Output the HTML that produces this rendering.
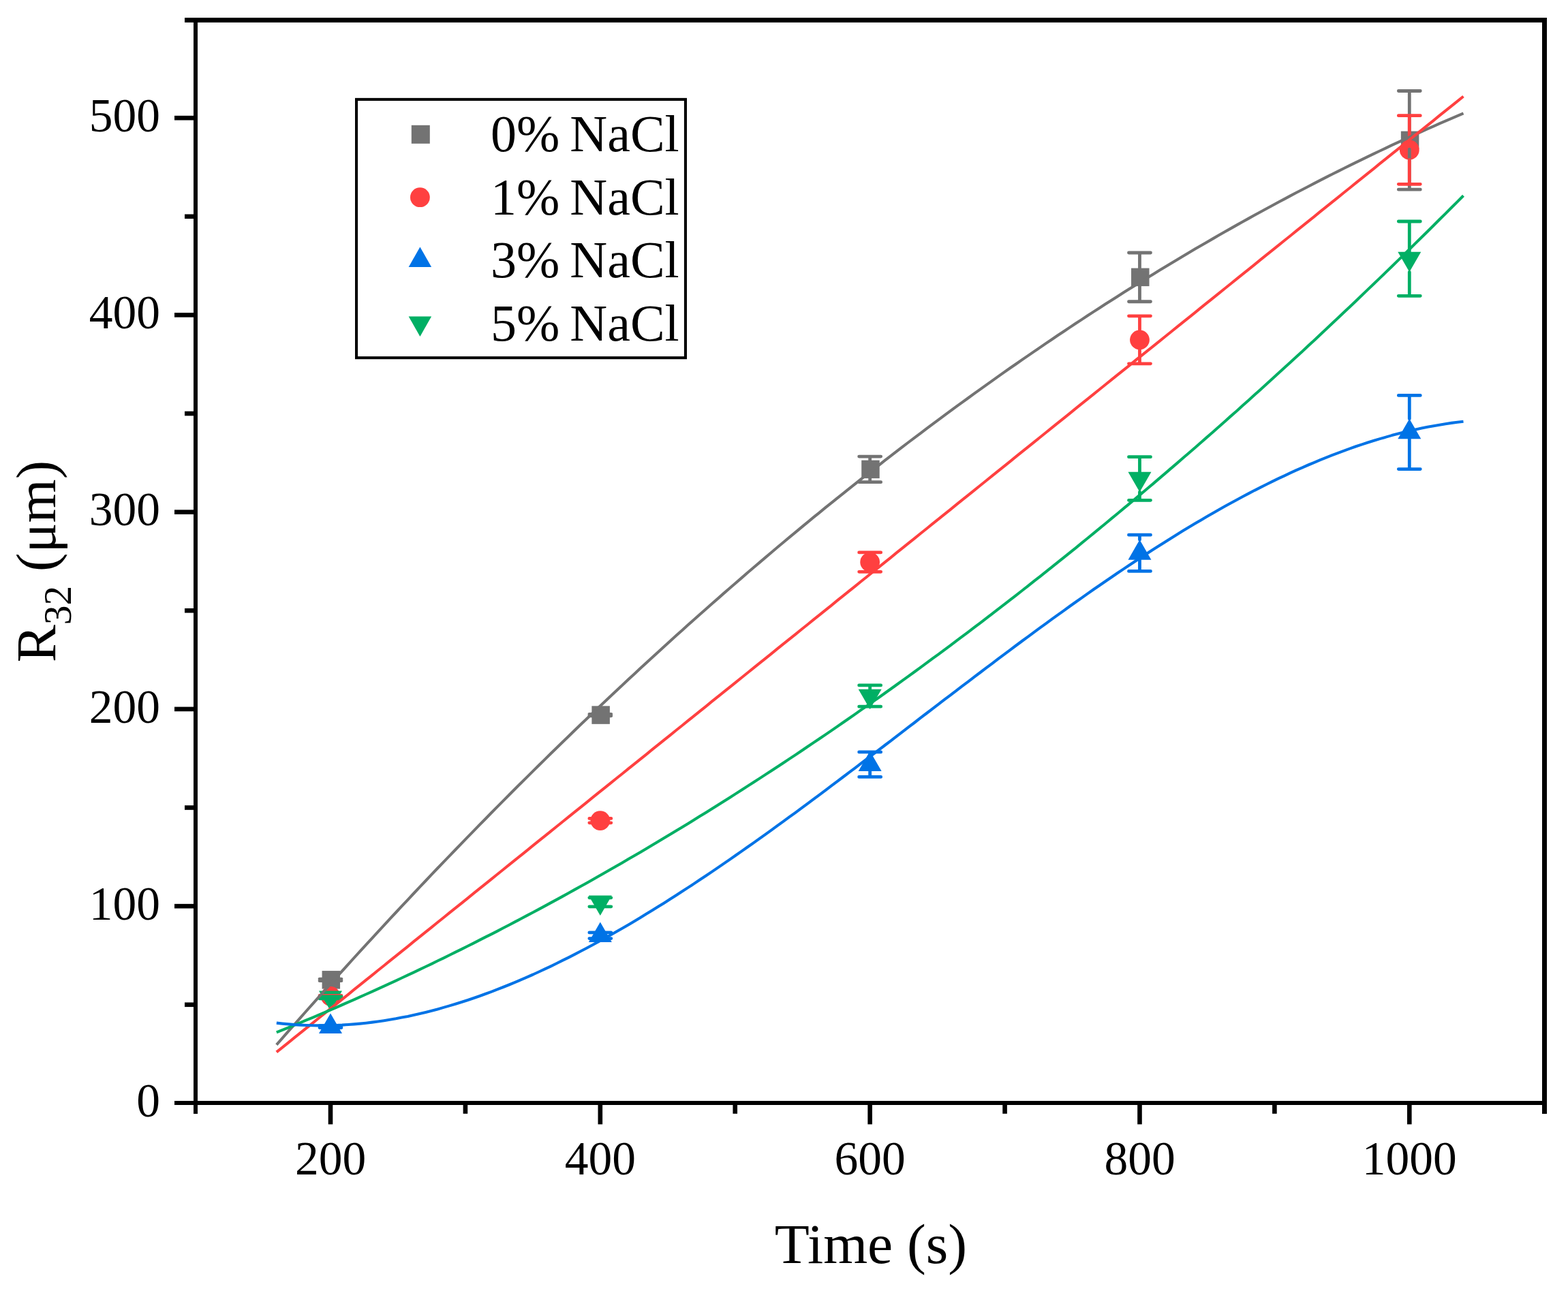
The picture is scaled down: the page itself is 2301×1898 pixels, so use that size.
<!DOCTYPE html>
<html><head><meta charset="utf-8"><title>R32 vs Time</title>
<style>html,body{margin:0;padding:0;background:#fff;width:2301px;height:1898px;overflow:hidden}</style>
</head><body>
<svg width="2301" height="1898" viewBox="0 0 2301 1898" style="position:absolute;left:0;top:0">
<rect width="2301" height="1898" fill="#fff"/>
<rect x="472.56" y="1425.08" width="26.5" height="26.5" fill="#737373"/>
<rect x="868.38" y="1036.33" width="26.5" height="26.5" fill="#737373"/>
<rect x="1264.20" y="675.63" width="26.5" height="26.5" fill="#737373"/>
<rect x="1660.02" y="393.61" width="26.5" height="26.5" fill="#737373"/>
<rect x="2055.84" y="192.59" width="26.5" height="26.5" fill="#737373"/>
<circle cx="485.01" cy="1462.34" r="14.4" fill="#FF4040"/>
<circle cx="880.83" cy="1204.62" r="14.4" fill="#FF4040"/>
<circle cx="1276.65" cy="825.12" r="14.4" fill="#FF4040"/>
<circle cx="1672.47" cy="498.85" r="14.4" fill="#FF4040"/>
<circle cx="2068.29" cy="220.01" r="14.4" fill="#FF4040"/>
<polygon points="485.01,1487.50 502.01,1517.00 468.01,1517.00" fill="#0073E6"/>
<polygon points="880.83,1353.58 897.83,1383.08 863.83,1383.08" fill="#0073E6"/>
<polygon points="1276.65,1102.51 1293.65,1132.01 1259.65,1132.01" fill="#0073E6"/>
<polygon points="1672.47,792.15 1689.47,821.65 1655.47,821.65" fill="#0073E6"/>
<polygon points="2068.29,614.84 2085.29,644.34 2051.29,644.34" fill="#0073E6"/>
<polygon points="468.01,1454.53 502.01,1454.53 485.01,1484.03" fill="#00AF64"/>
<polygon points="863.83,1314.53 897.83,1314.53 880.83,1344.03" fill="#00AF64"/>
<polygon points="1259.65,1011.69 1293.65,1011.69 1276.65,1041.19" fill="#00AF64"/>
<polygon points="1655.47,692.64 1689.47,692.64 1672.47,722.14" fill="#00AF64"/>
<polygon points="2051.29,369.84 2085.29,369.84 2068.29,399.34" fill="#00AF64"/>
<path d="M485.01,1437.03V1439.63M469.01,1437.03H501.01M469.01,1439.63H501.01" stroke="#737373" stroke-width="4.8" stroke-linecap="round" fill="none"/>
<path d="M880.83,1048.42V1050.73M864.83,1048.42H896.83M864.83,1050.73H896.83" stroke="#737373" stroke-width="4.8" stroke-linecap="round" fill="none"/>
<path d="M1276.65,670.08V675.63M1276.65,702.13V707.68M1260.65,670.08H1292.65M1260.65,707.68H1292.65" stroke="#737373" stroke-width="4.8" stroke-linecap="round" fill="none"/>
<path d="M1672.47,371.00V393.61M1672.47,420.11V442.73M1656.47,371.00H1688.47M1656.47,442.73H1688.47" stroke="#737373" stroke-width="4.8" stroke-linecap="round" fill="none"/>
<path d="M2068.29,133.52V192.59M2068.29,219.09V278.15M2052.29,133.52H2084.29M2052.29,278.15H2084.29" stroke="#737373" stroke-width="4.8" stroke-linecap="round" fill="none"/>
<path d="M485.01,1461.47V1463.21M469.01,1461.47H501.01M469.01,1463.21H501.01" stroke="#FF4040" stroke-width="4.8" stroke-linecap="round" fill="none"/>
<path d="M880.83,1201.43V1207.80M864.83,1201.43H896.83M864.83,1207.80H896.83" stroke="#FF4040" stroke-width="4.8" stroke-linecap="round" fill="none"/>
<path d="M1276.65,810.95V839.29M1260.65,810.95H1292.65M1260.65,839.29H1292.65" stroke="#FF4040" stroke-width="4.8" stroke-linecap="round" fill="none"/>
<path d="M1672.47,463.85V484.45M1672.47,513.25V533.84M1656.47,463.85H1688.47M1656.47,533.84H1688.47" stroke="#FF4040" stroke-width="4.8" stroke-linecap="round" fill="none"/>
<path d="M2068.29,169.68V205.61M2068.29,234.41V270.34M2052.29,169.68H2084.29M2052.29,270.34H2084.29" stroke="#FF4040" stroke-width="4.8" stroke-linecap="round" fill="none"/>
<path d="M485.01,1505.72V1508.62M469.01,1505.72H501.01M469.01,1508.62H501.01" stroke="#0073E6" stroke-width="4.8" stroke-linecap="round" fill="none"/>
<path d="M880.83,1368.91V1377.59M864.83,1368.91H896.83M864.83,1377.59H896.83" stroke="#0073E6" stroke-width="4.8" stroke-linecap="round" fill="none"/>
<path d="M1276.65,1103.96V1140.40M1260.65,1103.96H1292.65M1260.65,1140.40H1292.65" stroke="#0073E6" stroke-width="4.8" stroke-linecap="round" fill="none"/>
<path d="M1672.47,785.20V792.15M1672.47,821.65V838.43M1656.47,785.20H1688.47M1656.47,838.43H1688.47" stroke="#0073E6" stroke-width="4.8" stroke-linecap="round" fill="none"/>
<path d="M2068.29,580.41V614.84M2068.29,644.34V688.59M2052.29,580.41H2084.29M2052.29,688.59H2084.29" stroke="#0073E6" stroke-width="4.8" stroke-linecap="round" fill="none"/>
<path d="M485.01,1462.92V1465.81M469.01,1462.92H501.01M469.01,1465.81H501.01" stroke="#00AF64" stroke-width="4.8" stroke-linecap="round" fill="none"/>
<path d="M880.83,1317.86V1330.87M864.83,1317.86H896.83M864.83,1330.87H896.83" stroke="#00AF64" stroke-width="4.8" stroke-linecap="round" fill="none"/>
<path d="M1276.65,1005.90V1037.14M1260.65,1005.90H1292.65M1260.65,1037.14H1292.65" stroke="#00AF64" stroke-width="4.8" stroke-linecap="round" fill="none"/>
<path d="M1672.47,670.66V692.64M1672.47,722.14V734.30M1656.47,670.66H1688.47M1656.47,734.30H1688.47" stroke="#00AF64" stroke-width="4.8" stroke-linecap="round" fill="none"/>
<path d="M2068.29,325.01V369.84M2068.29,399.34V434.34M2052.29,325.01H2084.29M2052.29,434.34H2084.29" stroke="#00AF64" stroke-width="4.8" stroke-linecap="round" fill="none"/>
<polyline points="405.8,1533.7 414.6,1523.7 423.3,1513.7 432.1,1503.8 440.9,1493.9 449.6,1484.0 458.4,1474.1 467.1,1464.3 475.9,1454.5 484.6,1444.8 493.4,1435.0 502.1,1425.3 510.9,1415.7 519.6,1406.0 528.4,1396.4 537.1,1386.9 545.9,1377.3 554.6,1367.8 563.4,1358.4 572.1,1348.9 580.9,1339.5 589.6,1330.1 598.4,1320.8 607.1,1311.5 615.9,1302.2 624.6,1293.0 633.4,1283.7 642.1,1274.5 650.9,1265.4 659.6,1256.3 668.4,1247.2 677.2,1238.1 685.9,1229.1 694.7,1220.1 703.4,1211.1 712.2,1202.2 720.9,1193.3 729.7,1184.4 738.4,1175.6 747.2,1166.8 755.9,1158.0 764.7,1149.3 773.4,1140.6 782.2,1131.9 790.9,1123.2 799.7,1114.6 808.4,1106.0 817.2,1097.5 825.9,1089.0 834.7,1080.5 843.4,1072.0 852.2,1063.6 860.9,1055.2 869.7,1046.8 878.4,1038.5 887.2,1030.2 895.9,1021.9 904.7,1013.7 913.5,1005.5 922.2,997.3 931.0,989.2 939.7,981.1 948.5,973.0 957.2,965.0 966.0,956.9 974.7,949.0 983.5,941.0 992.2,933.1 1001.0,925.2 1009.7,917.3 1018.5,909.5 1027.2,901.7 1036.0,894.0 1044.7,886.2 1053.5,878.6 1062.2,870.9 1071.0,863.3 1079.7,855.7 1088.5,848.1 1097.2,840.5 1106.0,833.0 1114.7,825.6 1123.5,818.1 1132.2,810.7 1141.0,803.3 1149.7,796.0 1158.5,788.7 1167.3,781.4 1176.0,774.1 1184.8,766.9 1193.5,759.7 1202.3,752.6 1211.0,745.4 1219.8,738.4 1228.5,731.3 1237.3,724.3 1246.0,717.3 1254.8,710.3 1263.5,703.4 1272.3,696.5 1281.0,689.6 1289.8,682.8 1298.5,675.9 1307.3,669.2 1316.0,662.4 1324.8,655.7 1333.5,649.0 1342.3,642.4 1351.0,635.8 1359.8,629.2 1368.5,622.6 1377.3,616.1 1386.0,609.6 1394.8,603.2 1403.6,596.7 1412.3,590.3 1421.1,584.0 1429.8,577.6 1438.6,571.3 1447.3,565.1 1456.1,558.8 1464.8,552.6 1473.6,546.4 1482.3,540.3 1491.1,534.2 1499.8,528.1 1508.6,522.1 1517.3,516.1 1526.1,510.1 1534.8,504.1 1543.6,498.2 1552.3,492.3 1561.1,486.5 1569.8,480.6 1578.6,474.8 1587.3,469.1 1596.1,463.3 1604.8,457.6 1613.6,452.0 1622.3,446.3 1631.1,440.7 1639.8,435.2 1648.6,429.6 1657.4,424.1 1666.1,418.7 1674.9,413.2 1683.6,407.8 1692.4,402.4 1701.1,397.1 1709.9,391.7 1718.6,386.5 1727.4,381.2 1736.1,376.0 1744.9,370.8 1753.6,365.6 1762.4,360.5 1771.1,355.4 1779.9,350.4 1788.6,345.3 1797.4,340.3 1806.1,335.4 1814.9,330.4 1823.6,325.5 1832.4,320.6 1841.1,315.8 1849.9,311.0 1858.6,306.2 1867.4,301.5 1876.1,296.7 1884.9,292.1 1893.7,287.4 1902.4,282.8 1911.2,278.2 1919.9,273.7 1928.7,269.1 1937.4,264.6 1946.2,260.2 1954.9,255.7 1963.7,251.3 1972.4,247.0 1981.2,242.6 1989.9,238.3 1998.7,234.1 2007.4,229.8 2016.2,225.6 2024.9,221.5 2033.7,217.3 2042.4,213.2 2051.2,209.1 2059.9,205.1 2068.7,201.1 2077.4,197.1 2086.2,193.1 2094.9,189.2 2103.7,185.3 2112.4,181.4 2121.2,177.6 2130.0,173.8 2138.7,170.1 2147.5,166.3" stroke="#737373" stroke-width="4.1" fill="none" stroke-linejoin="round"/>
<polyline points="405.8,1544.3 414.6,1537.3 423.3,1530.3 432.1,1523.2 440.9,1516.2 449.6,1509.1 458.4,1502.1 467.1,1495.0 475.9,1488.0 484.6,1480.9 493.4,1473.9 502.1,1466.8 510.9,1459.8 519.6,1452.7 528.4,1445.7 537.1,1438.6 545.9,1431.6 554.6,1424.5 563.4,1417.5 572.1,1410.4 580.9,1403.4 589.6,1396.3 598.4,1389.3 607.1,1382.2 615.9,1375.2 624.6,1368.1 633.4,1361.1 642.1,1354.0 650.9,1347.0 659.6,1339.9 668.4,1332.9 677.2,1325.8 685.9,1318.8 694.7,1311.7 703.4,1304.7 712.2,1297.6 720.9,1290.6 729.7,1283.5 738.4,1276.5 747.2,1269.4 755.9,1262.4 764.7,1255.3 773.4,1248.3 782.2,1241.2 790.9,1234.2 799.7,1227.1 808.4,1220.1 817.2,1213.0 825.9,1206.0 834.7,1198.9 843.4,1191.9 852.2,1184.8 860.9,1177.8 869.7,1170.7 878.4,1163.7 887.2,1156.6 895.9,1149.6 904.7,1142.5 913.5,1135.5 922.2,1128.4 931.0,1121.4 939.7,1114.3 948.5,1107.3 957.2,1100.2 966.0,1093.2 974.7,1086.1 983.5,1079.1 992.2,1072.0 1001.0,1065.0 1009.7,1057.9 1018.5,1050.9 1027.2,1043.8 1036.0,1036.8 1044.7,1029.7 1053.5,1022.7 1062.2,1015.7 1071.0,1008.6 1079.7,1001.6 1088.5,994.5 1097.2,987.5 1106.0,980.4 1114.7,973.4 1123.5,966.3 1132.2,959.3 1141.0,952.2 1149.7,945.2 1158.5,938.1 1167.3,931.1 1176.0,924.0 1184.8,917.0 1193.5,909.9 1202.3,902.9 1211.0,895.8 1219.8,888.8 1228.5,881.7 1237.3,874.7 1246.0,867.6 1254.8,860.6 1263.5,853.5 1272.3,846.5 1281.0,839.4 1289.8,832.4 1298.5,825.3 1307.3,818.3 1316.0,811.2 1324.8,804.2 1333.5,797.1 1342.3,790.1 1351.0,783.0 1359.8,776.0 1368.5,768.9 1377.3,761.9 1386.0,754.8 1394.8,747.8 1403.6,740.7 1412.3,733.7 1421.1,726.6 1429.8,719.6 1438.6,712.5 1447.3,705.5 1456.1,698.4 1464.8,691.4 1473.6,684.3 1482.3,677.3 1491.1,670.2 1499.8,663.2 1508.6,656.1 1517.3,649.1 1526.1,642.0 1534.8,635.0 1543.6,627.9 1552.3,620.9 1561.1,613.8 1569.8,606.8 1578.6,599.7 1587.3,592.7 1596.1,585.6 1604.8,578.6 1613.6,571.5 1622.3,564.5 1631.1,557.4 1639.8,550.4 1648.6,543.3 1657.4,536.3 1666.1,529.2 1674.9,522.2 1683.6,515.2 1692.4,508.1 1701.1,501.1 1709.9,494.0 1718.6,487.0 1727.4,479.9 1736.1,472.9 1744.9,465.8 1753.6,458.8 1762.4,451.7 1771.1,444.7 1779.9,437.6 1788.6,430.6 1797.4,423.5 1806.1,416.5 1814.9,409.4 1823.6,402.4 1832.4,395.3 1841.1,388.3 1849.9,381.2 1858.6,374.2 1867.4,367.1 1876.1,360.1 1884.9,353.0 1893.7,346.0 1902.4,338.9 1911.2,331.9 1919.9,324.8 1928.7,317.8 1937.4,310.7 1946.2,303.7 1954.9,296.6 1963.7,289.6 1972.4,282.5 1981.2,275.5 1989.9,268.4 1998.7,261.4 2007.4,254.3 2016.2,247.3 2024.9,240.2 2033.7,233.2 2042.4,226.1 2051.2,219.1 2059.9,212.0 2068.7,205.0 2077.4,197.9 2086.2,190.9 2094.9,183.8 2103.7,176.8 2112.4,169.7 2121.2,162.7 2130.0,155.6 2138.7,148.6 2147.5,141.5" stroke="#FF4040" stroke-width="4.1" fill="none" stroke-linejoin="round"/>
<polyline points="405.8,1515.4 414.6,1511.8 423.3,1508.3 432.1,1504.7 440.9,1501.1 449.6,1497.4 458.4,1493.8 467.1,1490.1 475.9,1486.3 484.6,1482.6 493.4,1478.8 502.1,1475.0 510.9,1471.2 519.6,1467.3 528.4,1463.4 537.1,1459.5 545.9,1455.6 554.6,1451.6 563.4,1447.6 572.1,1443.6 580.9,1439.6 589.6,1435.5 598.4,1431.4 607.1,1427.3 615.9,1423.1 624.6,1419.0 633.4,1414.8 642.1,1410.5 650.9,1406.3 659.6,1402.0 668.4,1397.7 677.2,1393.3 685.9,1389.0 694.7,1384.6 703.4,1380.2 712.2,1375.7 720.9,1371.3 729.7,1366.8 738.4,1362.3 747.2,1357.7 755.9,1353.1 764.7,1348.5 773.4,1343.9 782.2,1339.2 790.9,1334.6 799.7,1329.9 808.4,1325.1 817.2,1320.4 825.9,1315.6 834.7,1310.8 843.4,1305.9 852.2,1301.0 860.9,1296.2 869.7,1291.2 878.4,1286.3 887.2,1281.3 895.9,1276.3 904.7,1271.3 913.5,1266.2 922.2,1261.1 931.0,1256.0 939.7,1250.9 948.5,1245.7 957.2,1240.6 966.0,1235.3 974.7,1230.1 983.5,1224.8 992.2,1219.5 1001.0,1214.2 1009.7,1208.9 1018.5,1203.5 1027.2,1198.1 1036.0,1192.7 1044.7,1187.2 1053.5,1181.7 1062.2,1176.2 1071.0,1170.7 1079.7,1165.1 1088.5,1159.6 1097.2,1153.9 1106.0,1148.3 1114.7,1142.6 1123.5,1136.9 1132.2,1131.2 1141.0,1125.5 1149.7,1119.7 1158.5,1113.9 1167.3,1108.1 1176.0,1102.2 1184.8,1096.3 1193.5,1090.4 1202.3,1084.5 1211.0,1078.6 1219.8,1072.6 1228.5,1066.6 1237.3,1060.5 1246.0,1054.5 1254.8,1048.4 1263.5,1042.2 1272.3,1036.1 1281.0,1029.9 1289.8,1023.7 1298.5,1017.5 1307.3,1011.3 1316.0,1005.0 1324.8,998.7 1333.5,992.3 1342.3,986.0 1351.0,979.6 1359.8,973.2 1368.5,966.7 1377.3,960.3 1386.0,953.8 1394.8,947.3 1403.6,940.7 1412.3,934.2 1421.1,927.6 1429.8,920.9 1438.6,914.3 1447.3,907.6 1456.1,900.9 1464.8,894.2 1473.6,887.4 1482.3,880.6 1491.1,873.8 1499.8,867.0 1508.6,860.1 1517.3,853.2 1526.1,846.3 1534.8,839.4 1543.6,832.4 1552.3,825.4 1561.1,818.4 1569.8,811.3 1578.6,804.3 1587.3,797.2 1596.1,790.0 1604.8,782.9 1613.6,775.7 1622.3,768.5 1631.1,761.2 1639.8,754.0 1648.6,746.7 1657.4,739.4 1666.1,732.0 1674.9,724.7 1683.6,717.3 1692.4,709.9 1701.1,702.4 1709.9,694.9 1718.6,687.4 1727.4,679.9 1736.1,672.3 1744.9,664.8 1753.6,657.2 1762.4,649.5 1771.1,641.9 1779.9,634.2 1788.6,626.5 1797.4,618.7 1806.1,610.9 1814.9,603.2 1823.6,595.3 1832.4,587.5 1841.1,579.6 1849.9,571.7 1858.6,563.8 1867.4,555.8 1876.1,547.8 1884.9,539.8 1893.7,531.8 1902.4,523.7 1911.2,515.7 1919.9,507.5 1928.7,499.4 1937.4,491.2 1946.2,483.0 1954.9,474.8 1963.7,466.6 1972.4,458.3 1981.2,450.0 1989.9,441.7 1998.7,433.3 2007.4,424.9 2016.2,416.5 2024.9,408.1 2033.7,399.6 2042.4,391.2 2051.2,382.6 2059.9,374.1 2068.7,365.5 2077.4,356.9 2086.2,348.3 2094.9,339.7 2103.7,331.0 2112.4,322.3 2121.2,313.6 2130.0,304.8 2138.7,296.1 2147.5,287.3" stroke="#00AF64" stroke-width="4.1" fill="none" stroke-linejoin="round"/>
<polyline points="405.8,1501.6 414.6,1502.6 423.3,1503.4 432.1,1504.1 440.9,1504.6 449.6,1505.0 458.4,1505.3 467.1,1505.4 475.9,1505.4 484.6,1505.3 493.4,1505.0 502.1,1504.6 510.9,1504.0 519.6,1503.4 528.4,1502.6 537.1,1501.7 545.9,1500.6 554.6,1499.5 563.4,1498.2 572.1,1496.8 580.9,1495.3 589.6,1493.6 598.4,1491.9 607.1,1490.0 615.9,1488.0 624.6,1485.9 633.4,1483.7 642.1,1481.4 650.9,1478.9 659.6,1476.4 668.4,1473.8 677.2,1471.0 685.9,1468.2 694.7,1465.2 703.4,1462.2 712.2,1459.0 720.9,1455.8 729.7,1452.4 738.4,1449.0 747.2,1445.5 755.9,1441.9 764.7,1438.1 773.4,1434.3 782.2,1430.5 790.9,1426.5 799.7,1422.4 808.4,1418.3 817.2,1414.0 825.9,1409.7 834.7,1405.3 843.4,1400.9 852.2,1396.3 860.9,1391.7 869.7,1387.0 878.4,1382.2 887.2,1377.4 895.9,1372.5 904.7,1367.5 913.5,1362.5 922.2,1357.4 931.0,1352.2 939.7,1346.9 948.5,1341.6 957.2,1336.3 966.0,1330.8 974.7,1325.4 983.5,1319.8 992.2,1314.2 1001.0,1308.6 1009.7,1302.9 1018.5,1297.1 1027.2,1291.3 1036.0,1285.5 1044.7,1279.6 1053.5,1273.6 1062.2,1267.6 1071.0,1261.6 1079.7,1255.5 1088.5,1249.4 1097.2,1243.3 1106.0,1237.1 1114.7,1230.8 1123.5,1224.6 1132.2,1218.3 1141.0,1211.9 1149.7,1205.6 1158.5,1199.2 1167.3,1192.8 1176.0,1186.3 1184.8,1179.8 1193.5,1173.3 1202.3,1166.8 1211.0,1160.3 1219.8,1153.7 1228.5,1147.1 1237.3,1140.5 1246.0,1133.9 1254.8,1127.3 1263.5,1120.6 1272.3,1114.0 1281.0,1107.3 1289.8,1100.6 1298.5,1094.0 1307.3,1087.3 1316.0,1080.6 1324.8,1073.9 1333.5,1067.2 1342.3,1060.5 1351.0,1053.7 1359.8,1047.0 1368.5,1040.3 1377.3,1033.6 1386.0,1026.9 1394.8,1020.3 1403.6,1013.6 1412.3,1006.9 1421.1,1000.3 1429.8,993.6 1438.6,987.0 1447.3,980.4 1456.1,973.8 1464.8,967.2 1473.6,960.6 1482.3,954.1 1491.1,947.5 1499.8,941.0 1508.6,934.6 1517.3,928.1 1526.1,921.7 1534.8,915.3 1543.6,908.9 1552.3,902.6 1561.1,896.3 1569.8,890.0 1578.6,883.8 1587.3,877.6 1596.1,871.4 1604.8,865.3 1613.6,859.2 1622.3,853.2 1631.1,847.2 1639.8,841.3 1648.6,835.4 1657.4,829.5 1666.1,823.7 1674.9,817.9 1683.6,812.2 1692.4,806.6 1701.1,801.0 1709.9,795.4 1718.6,789.9 1727.4,784.5 1736.1,779.1 1744.9,773.8 1753.6,768.6 1762.4,763.4 1771.1,758.3 1779.9,753.2 1788.6,748.2 1797.4,743.3 1806.1,738.5 1814.9,733.7 1823.6,729.0 1832.4,724.4 1841.1,719.8 1849.9,715.4 1858.6,711.0 1867.4,706.6 1876.1,702.4 1884.9,698.3 1893.7,694.2 1902.4,690.2 1911.2,686.3 1919.9,682.5 1928.7,678.8 1937.4,675.1 1946.2,671.6 1954.9,668.2 1963.7,664.8 1972.4,661.6 1981.2,658.4 1989.9,655.3 1998.7,652.4 2007.4,649.5 2016.2,646.8 2024.9,644.1 2033.7,641.6 2042.4,639.1 2051.2,636.8 2059.9,634.6 2068.7,632.5 2077.4,630.5 2086.2,628.6 2094.9,626.8 2103.7,625.2 2112.4,623.7 2121.2,622.2 2130.0,620.9 2138.7,619.8 2147.5,618.7" stroke="#0073E6" stroke-width="4.1" fill="none" stroke-linejoin="round"/>
<g fill="#000">
<rect x="271" y="26" width="1999" height="7"/>
<rect x="256" y="1616" width="2014" height="6"/>
<rect x="284" y="26" width="6" height="1609"/>
<rect x="2263" y="26" width="7" height="1609"/>
<rect x="256" y="1326.85" width="28" height="6.6"/>
<rect x="256" y="1037.60" width="28" height="6.6"/>
<rect x="256" y="748.35" width="28" height="6.6"/>
<rect x="256" y="459.10" width="28" height="6.6"/>
<rect x="256" y="169.85" width="28" height="6.6"/>
<rect x="271" y="1471.48" width="13" height="6.6"/>
<rect x="271" y="1182.23" width="13" height="6.6"/>
<rect x="271" y="892.98" width="13" height="6.6"/>
<rect x="271" y="603.73" width="13" height="6.6"/>
<rect x="271" y="314.48" width="13" height="6.6"/>
<rect x="481.71" y="1622" width="6.6" height="28.4"/>
<rect x="877.53" y="1622" width="6.6" height="28.4"/>
<rect x="1273.35" y="1622" width="6.6" height="28.4"/>
<rect x="1669.17" y="1622" width="6.6" height="28.4"/>
<rect x="2064.99" y="1622" width="6.6" height="28.4"/>
<rect x="679.62" y="1622" width="6.6" height="12.8"/>
<rect x="1075.44" y="1622" width="6.6" height="12.8"/>
<rect x="1471.26" y="1622" width="6.6" height="12.8"/>
<rect x="1867.08" y="1622" width="6.6" height="12.8"/>
</g>
<g font-family="'Liberation Serif','Times New Roman',serif" font-size="69.5" fill="#000" text-anchor="end">
<text x="235" y="1639.1">0</text>
<text x="235" y="1349.9">100</text>
<text x="235" y="1060.6">200</text>
<text x="235" y="771.4">300</text>
<text x="235" y="482.1">400</text>
<text x="235" y="192.9">500</text>
</g>
<g font-family="'Liberation Serif','Times New Roman',serif" font-size="69.5" fill="#000" text-anchor="middle">
<text x="485.0" y="1724.2">200</text>
<text x="880.8" y="1724.2">400</text>
<text x="1276.7" y="1724.2">600</text>
<text x="1672.5" y="1724.2">800</text>
<text x="2068.3" y="1724.2">1000</text>
</g>
<text x="1278" y="1853.7" font-family="'Liberation Serif','Times New Roman',serif" font-size="83.5" text-anchor="middle" fill="#000">Time (s)</text>
<text transform="translate(81,824) rotate(-90)" font-family="'Liberation Serif','Times New Roman',serif" font-size="82.5" text-anchor="middle" fill="#000">R<tspan font-size="57.5" dy="22.7">32</tspan><tspan dy="-22.7"> (μm)</tspan></text>
<rect x="523.05" y="145.9" width="482.9" height="379.3" fill="none" stroke="#000" stroke-width="4.1"/>
<rect x="603.80" y="183.80" width="27" height="27" fill="#737373"/>
<circle cx="616.40" cy="289.70" r="14.4" fill="#FF4040"/>
<polygon points="616.40,362.43 633.15,391.93 599.65,391.93" fill="#0073E6"/>
<polygon points="599.65,464.47 633.15,464.47 616.40,493.97" fill="#00AF64"/>
<text x="720" y="222.3" font-family="'Liberation Serif','Times New Roman',serif" font-size="76" word-spacing="-4" fill="#000">0% NaCl</text>
<text x="720" y="314.8" font-family="'Liberation Serif','Times New Roman',serif" font-size="76" word-spacing="-4" fill="#000">1% NaCl</text>
<text x="720" y="406.9" font-family="'Liberation Serif','Times New Roman',serif" font-size="76" word-spacing="-4" fill="#000">3% NaCl</text>
<text x="720" y="499.7" font-family="'Liberation Serif','Times New Roman',serif" font-size="76" word-spacing="-4" fill="#000">5% NaCl</text>
</svg>
</body></html>
